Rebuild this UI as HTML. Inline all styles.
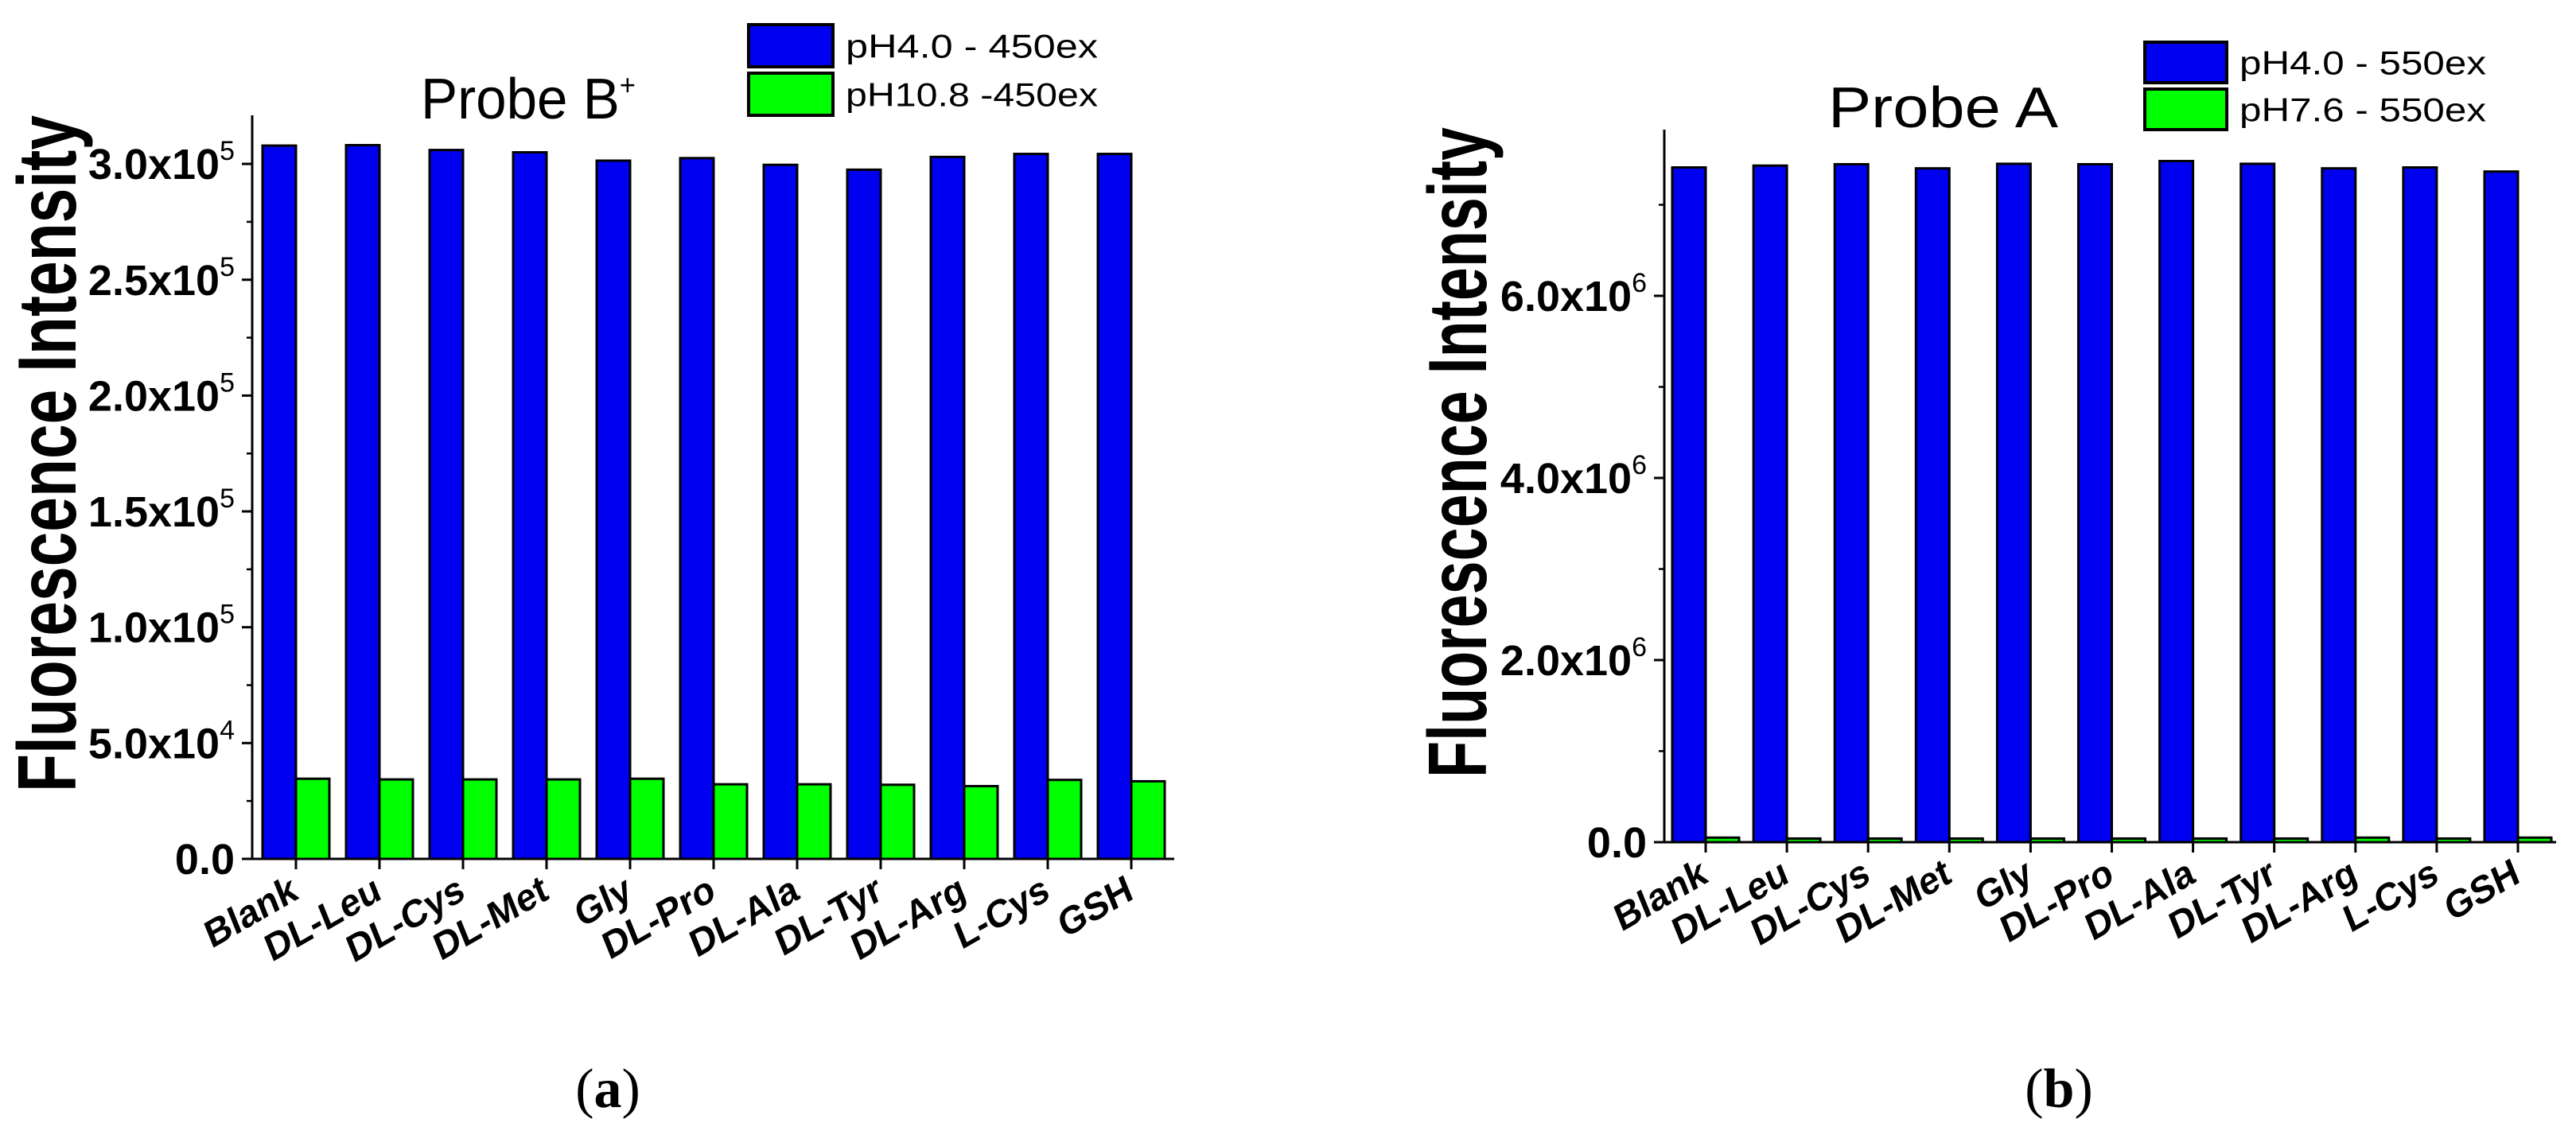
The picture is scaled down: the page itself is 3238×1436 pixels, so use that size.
<!DOCTYPE html>
<html><head><meta charset="utf-8"><style>
html,body{margin:0;padding:0;background:#fff;overflow:hidden;}
svg{display:block;font-family:"Liberation Sans",Arial,sans-serif;}
</style></head><body>
<svg id="fig" width="3238" height="1436" viewBox="0 0 3238 1436" xmlns="http://www.w3.org/2000/svg">
<g id="ca"></g>
<g id="cb"></g>
<text x="764" y="1392" text-anchor="middle" font-family="Liberation Serif, serif" font-size="70">(<tspan font-weight="bold">a</tspan>)</text>
<text x="2588" y="1392" text-anchor="middle" font-family="Liberation Serif, serif" font-size="70">(<tspan font-weight="bold">b</tspan>)</text>
</svg>
<script>
const categories = ["Blank","DL-Leu","DL-Cys","DL-Met","Gly","DL-Pro","DL-Ala","DL-Tyr","DL-Arg","L-Cys","GSH"];
const aBlue = [3.079e5,3.081e5,3.06e5,3.05e5,3.014e5,3.025e5,2.996e5,2.975e5,3.03e5,3.043e5,3.043e5];
const aGreen = [3.46e4,3.43e4,3.43e4,3.43e4,3.46e4,3.22e4,3.22e4,3.20e4,3.14e4,3.41e4,3.35e4];
const bBlue = [7.41e6,7.43e6,7.445e6,7.40e6,7.45e6,7.445e6,7.48e6,7.45e6,7.40e6,7.41e6,7.365e6];
const bGreen = [0.05e6,0.04e6,0.04e6,0.04e6,0.04e6,0.04e6,0.04e6,0.04e6,0.05e6,0.04e6,0.05e6];
const aTicks = [0,5e4,1e5,1.5e5,2e5,2.5e5,3e5];
const aTickMain = ["0.0","5.0x10","1.0x10","1.5x10","2.0x10","2.5x10","3.0x10"];
const aTickExp = ["","4","5","5","5","5","5"];
const bTicks = [0,2e6,4e6,6e6];
const bTickMain = ["0.0","2.0x10","4.0x10","6.0x10"];
const bTickExp = ["","6","6","6"];
const aLegend = ["pH4.0  - 450ex","pH10.8 -450ex"];
const bLegend = ["pH4.0  - 550ex","pH7.6  - 550ex"];

const NS="http://www.w3.org/2000/svg";
function mk(parent,tag,attrs,text){const e=document.createElementNS(NS,tag);for(const k in attrs)e.setAttribute(k,attrs[k]);if(text!==undefined)e.textContent=text;parent.appendChild(e);return e;}

function drawChart(cfg){
  const g=document.getElementById(cfg.id);
  const y=v=>cfg.base-(v/cfg.yUnit)*cfg.unitPx;
  const xg=i=>cfg.firstX+i*cfg.pitch;
  categories.forEach((c,i)=>{
    const yb=y(cfg.blue[i]);
    const r1=mk(g,'rect',{x:xg(i),y:yb,width:cfg.bw,height:cfg.base-yb,fill:'#0000f0',stroke:'#000','stroke-width':3});
    
    
    const yg=y(cfg.green[i]);
    const r2=mk(g,'rect',{x:xg(i)+cfg.bw,y:yg,width:cfg.bw,height:Math.max(cfg.base-yg,1),fill:'#00ff00',stroke:'#000','stroke-width':3});
    
    
    const tx=xg(i)+cfg.bw;
    mk(g,'line',{x1:tx,y1:cfg.base,x2:tx,y2:cfg.base+13,stroke:'#000','stroke-width':3});
    const lab=mk(g,'text',{x:0,y:0,transform:`translate(${tx-8},${cfg.base+18}) rotate(-30) skewX(-8)`,'text-anchor':'end','font-size':47,'font-weight':'bold','dominant-baseline':'hanging'},c);
    
    
  });
  const ya=mk(g,'line',{x1:cfg.axisX,y1:cfg.top,x2:cfg.axisX,y2:cfg.base+1.5,stroke:'#000','stroke-width':3});
  
  
  const xa=mk(g,'line',{x1:cfg.axisX-1.5,y1:cfg.base,x2:cfg.right,y2:cfg.base,stroke:'#000','stroke-width':3});
  
  
  const step=cfg.ticks[1]-cfg.ticks[0];
  cfg.ticks.forEach((t,i)=>{
    const ty=y(t);
    mk(g,'line',{x1:cfg.axisX-13,y1:ty,x2:cfg.axisX,y2:ty,stroke:'#000','stroke-width':3});
    const my=y(t+step/2);
    if(my>cfg.top) mk(g,'line',{x1:cfg.axisX-7,y1:my,x2:cfg.axisX,y2:my,stroke:'#000','stroke-width':2.5});
    const tl=mk(g,'text',{x:cfg.axisX-22,y:ty+19,'text-anchor':'end','font-size':54,'font-weight':'bold'});
    
    
    mk(tl,'tspan',{},cfg.tickMain[i]);
    if(cfg.tickExp[i]) mk(tl,'tspan',{dy:-24,'font-size':34,'font-weight':'normal'},cfg.tickExp[i]);
  });
  const yt=mk(g,'text',{x:0,y:0,transform:`translate(${cfg.ytX},${cfg.ytBottom}) rotate(-90)`,'font-size':104,'font-weight':'bold',textLength:cfg.ytLen,lengthAdjust:'spacingAndGlyphs'},'Fluorescence Intensity');
  
  
  const tt=mk(g,'text',{x:cfg.titleX,y:cfg.titleY,'font-size':72,textLength:cfg.titleLen,lengthAdjust:'spacingAndGlyphs'});
  
  
  mk(tt,'tspan',{},cfg.title);
  if(cfg.titleSup) mk(tt,'tspan',{dy:-30,'font-size':36},cfg.titleSup);
  cfg.legend.forEach((L,i)=>{
    const ly=cfg.legY+i*cfg.legStep;
    const lr=mk(g,'rect',{x:cfg.legX,y:ly,width:cfg.legW,height:cfg.legH,fill:i?'#00ff00':'#0000f0',stroke:'#000','stroke-width':4});
    
    
    const lt=mk(g,'text',{x:cfg.legX+cfg.legW+16,y:ly+cfg.legH/2+15,'font-size':42,textLength:cfg.legTL,lengthAdjust:'spacingAndGlyphs','xml:space':'preserve'},L);
    
    
  });
}
drawChart({id:'ca',blue:aBlue,green:aGreen,ticks:aTicks,tickMain:aTickMain,tickExp:aTickExp,
  base:1080,unitPx:291.3,yUnit:1e5,firstX:330,pitch:105,bw:42,axisX:317,top:145,right:1476,
  ytX:95,ytBottom:996,ytLen:851,title:'Probe B',titleSup:'+',titleX:529,titleY:149,titleLen:270,
  legend:aLegend,legX:941,legY:31,legStep:61,legW:106,legH:53,legTL:317});
drawChart({id:'cb',blue:bBlue,green:bGreen,ticks:bTicks,tickMain:bTickMain,tickExp:bTickExp,
  base:1059,unitPx:229,yUnit:2e6,firstX:2102,pitch:102.1,bw:42,axisX:2092,top:163,right:3213,
  ytX:1868,ytBottom:978,ytLen:818,title:'Probe A',titleSup:'',titleX:2298,titleY:160,titleLen:289,
  legend:bLegend,legX:2696,legY:53,legStep:59,legW:103,legH:51,legTL:310});
</script>
</body></html>
